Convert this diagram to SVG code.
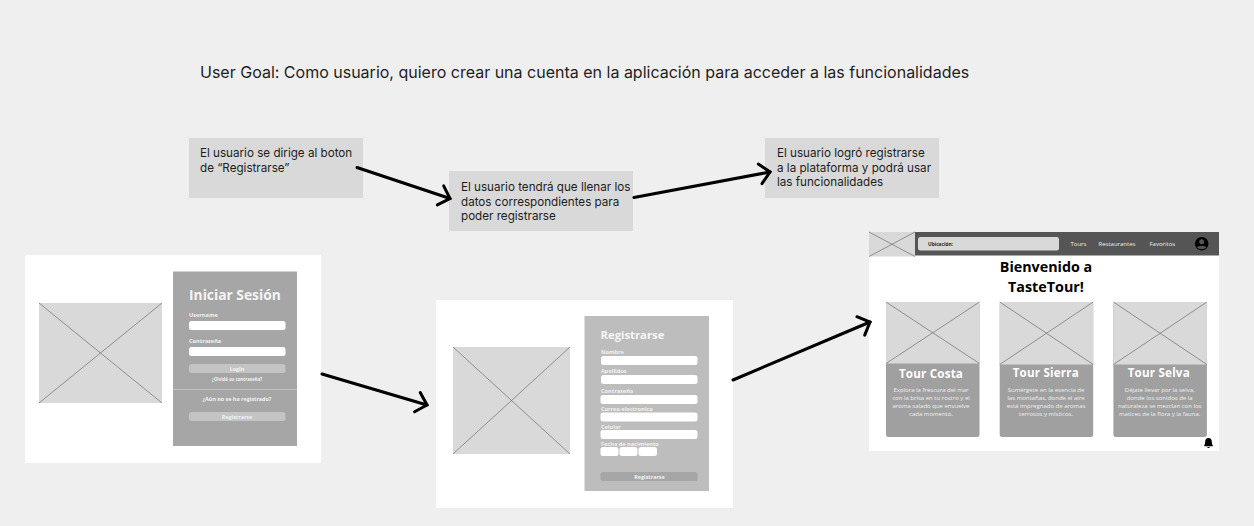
<svg xmlns="http://www.w3.org/2000/svg" width="1254" height="526" viewBox="0 0 1254 526">
<defs>
<style>
text{font-family:"Open Sans","Noto Sans",sans-serif}
.note{font-family:Inter,"Liberation Sans",sans-serif;font-size:11.65px;fill:#1e1e1e}
.noteBox{fill:#d9d9d9}
.panel{fill:#fff}
.ph{fill:#d9d9d9}
.x{stroke:#6f6f6f;stroke-width:.7;fill:none}
.in{fill:#fff}
.lab{font-size:5.6px;font-weight:700;fill:#f2f2f2}
.btnT{font-size:5.4px;font-weight:700;fill:#f2f2f2;text-anchor:middle}
.cardT{font-size:11.6px;font-weight:700;fill:#fff;text-anchor:middle;letter-spacing:.2px}
.cardB{font-size:6px;font-weight:500;fill:#f0f0f0;text-anchor:middle}
.nav{font-size:6px;font-weight:500;fill:#eee}
.arr{stroke:#000;stroke-width:3;fill:none;stroke-linecap:round}
</style>
<marker id="head" markerUnits="userSpaceOnUse" markerWidth="26" markerHeight="26" refX="13" refY="10" orient="auto" overflow="visible">
<path d="M3 0L13 10L3 20" fill="none" stroke="#000" stroke-width="3" stroke-linecap="round"/>
</marker>
</defs>
<rect width="1254" height="526" fill="#efefef"/>
<text id="goal" x="200" y="78" style="font-family:Inter,'Liberation Sans',sans-serif;font-size:16px;fill:#1e1e1e">User Goal: Como usuario, quiero crear una cuenta en la aplicación para acceder a las funcionalidades</text>

<g id="note1"><rect class="noteBox" x="189" y="138" width="174" height="60"/>
<text class="note" x="200" y="157">El usuario se dirige al boton</text><text class="note" x="200" y="172">de “Registrarse”</text></g>
<g id="note2"><rect class="noteBox" x="449" y="171" width="184" height="60"/>
<text class="note" x="461" y="191">El usuario tendrá que llenar los</text><text class="note" x="461" y="206">datos correspondientes para</text><text class="note" x="461" y="220">poder registrarse</text></g>
<g id="note3"><rect class="noteBox" x="765" y="138" width="174" height="60"/>
<text class="note" x="777" y="157">El usuario logró registrarse</text><text class="note" x="777" y="172">a la plataforma y podrá usar</text><text class="note" x="777" y="186">las funcionalidades</text></g>

<g id="login">
<rect class="panel" x="25" y="255" width="296" height="208"/>
<rect class="ph" x="39" y="303" width="123" height="100"/>
<path class="x" d="M39 303L162 403M162 303L39 403"/>
<rect x="173" y="271.500" width="124" height="174.500" fill="#a6a6a6"/>
<text x="189" y="300" style="font-size:13.800px;font-weight:700;fill:#f4f4f4">Iniciar Sesión</text>
<text class="lab" x="189" y="317">Username</text>
<rect class="in" x="189" y="321" width="96.500" height="9" rx="2.500"/>
<text class="lab" x="189" y="343">Contraseña</text>
<rect class="in" x="189" y="347" width="96.500" height="9" rx="2.500"/>
<rect x="189" y="364" width="96.500" height="9" rx="2.500" fill="#c4c4c4"/>
<text class="btnT" x="237" y="370.500">Login</text>
<text class="btnT" x="237" y="380.500" style="font-size:4.400px">¿Olvidó su contraseña?</text>
<rect x="173" y="389" width="124" height=".7" fill="#d0d0d0"/>
<text class="btnT" x="237" y="401">¿Aún no se ha registrado?</text>
<rect x="189" y="412" width="96.500" height="9" rx="2.500" fill="#c4c4c4"/>
<text class="btnT" x="237" y="418.500">Registrarse</text>
</g>

<g id="signup">
<rect class="panel" x="436" y="300" width="297" height="208"/>
<rect class="ph" x="453" y="347" width="117" height="107"/>
<path class="x" d="M453 347L570 454M570 347L453 454"/>
<rect x="584.500" y="316" width="124.500" height="175" fill="#bdbdbd"/>
<text x="600.500" y="338.500" style="font-size:11.300px;font-weight:700;fill:#f6f6f6">Registrarse</text>
<text class="lab" x="601" y="353.500">Nombre</text>
<rect class="in" x="601" y="356" width="96.500" height="9" rx="2.500"/>
<text class="lab" x="601" y="372.500">Apellidos</text>
<rect class="in" x="601" y="375" width="96.500" height="9" rx="2.500"/>
<text class="lab" x="601" y="392.500">Contraseña</text>
<rect class="in" x="600.500" y="395" width="97" height="9" rx="2.500"/>
<text class="lab" x="601" y="411">Correo electronico</text>
<rect class="in" x="600.500" y="412.500" width="97" height="9" rx="2.500"/>
<text class="lab" x="601" y="428.500">Celular</text>
<rect class="in" x="600.500" y="430" width="97" height="9" rx="2.500"/>
<text class="lab" x="601" y="446">Fecha de nacimiento</text>
<rect class="in" x="600.500" y="447" width="18" height="9" rx="2.500"/>
<rect class="in" x="619.500" y="447" width="18" height="9" rx="2.500"/>
<rect class="in" x="638.500" y="447" width="18.500" height="9" rx="2.500"/>
<rect x="600.500" y="472" width="97" height="9" rx="2.500" fill="#a6a6a6"/>
<text class="btnT" x="649.500" y="478.800">Registrarse</text>
</g>

<g id="home">
<rect class="panel" x="869" y="232" width="350" height="219"/>
<rect x="915" y="232" width="304" height="23.500" fill="#555"/>
<rect class="ph" x="869" y="232" width="46" height="24.500"/>
<path class="x" d="M869 232L915 256.500M915 232L869 256.500"/>
<rect x="918" y="237" width="141" height="13.500" rx="2.500" fill="#d9d9d9"/>
<text x="928" y="245.500" style="font-size:4.800px;font-weight:700;fill:#222">Ubicación:</text>
<text class="nav" x="1070.500" y="246">Tours</text>
<text class="nav" x="1098.500" y="246">Restaurantes</text>
<text class="nav" x="1149.500" y="246">Favoritos</text>
<circle cx="1201.700" cy="243.700" r="6.800" fill="#000"/>
<circle cx="1201.700" cy="241.700" r="2.500" fill="#555"/>
<path d="M1197 247.500c1-1.900 8.400-1.900 9.400 0c-2 2.200-7.400 2.200-9.400 0z" fill="#555"/>
<text x="1046" y="272" text-anchor="middle" style="font-size:14.300px;font-weight:700;fill:#000">Bienvenido a</text>
<text x="1046" y="292" text-anchor="middle" style="font-size:14.300px;font-weight:700;fill:#000">TasteTour!</text>
<path d="M1208.500 438c-2.300 0-3.300 1.700-3.300 3.700c0 2-.7 3-1.200 4.500h9c-.5-1.500-1.200-2.500-1.200-4.500c0-2-1-3.700-3.300-3.700zM1207 447a1.600 1.600 0 0 0 3 0z" fill="#000"/>
</g>

<g id="cardCosta">
<rect x="886" y="302" width="93.500" height="135" rx="2.500" fill="#a0a0a0"/>
<rect class="ph" x="886" y="302" width="93.500" height="61.500"/>
<path class="x" d="M886 302L979.500 363.500M979.500 302L886 363.500"/>
<text class="cardT" x="931" y="377.500">Tour Costa</text>
<text class="cardB" x="931" y="392">Explora la frescura del mar</text>
<text class="cardB" x="931" y="400">con la brisa en tu rostro y el</text>
<text class="cardB" x="931" y="408">aroma salado que envuelve</text>
<text class="cardB" x="931" y="416">cada momento.</text>
</g>
<g id="cardSierra">
<rect x="999.700" y="302" width="93.500" height="135" rx="2.500" fill="#a0a0a0"/>
<rect class="ph" x="999.700" y="302" width="93.500" height="62.500"/>
<path class="x" d="M999.700 302L1093.200 364.500M1093.200 302L999.700 364.500"/>
<text class="cardT" x="1045.800" y="376.800">Tour Sierra</text>
<text class="cardB" x="1046" y="392">Sumérgete en la esencia de</text>
<text class="cardB" x="1046" y="400">las montañas, donde el aire</text>
<text class="cardB" x="1046" y="408">está impregnado de aromas</text>
<text class="cardB" x="1046" y="416">terrosos y místicos.</text>
</g>
<g id="cardSelva">
<rect x="1113.400" y="302" width="93.500" height="135" rx="2.500" fill="#a0a0a0"/>
<rect class="ph" x="1113.400" y="302" width="93.500" height="62.500"/>
<path class="x" d="M1113.400 302L1206.900 364.500M1206.900 302L1113.400 364.500"/>
<text class="cardT" x="1158.800" y="377">Tour Selva</text>
<text class="cardB" x="1159.700" y="392">Déjate llevar por la selva,</text>
<text class="cardB" x="1159.700" y="400">donde los sonidos de la</text>
<text class="cardB" x="1159.700" y="408">naturaleza se mezclan con los</text>
<text class="cardB" x="1159.700" y="416">matices de la flora y la fauna.</text>
</g>

<g id="connectors">
<line class="arr" x1="357" y1="167.500" x2="450" y2="198.500" marker-end="url(#head)"/>
<line class="arr" x1="634" y1="197.500" x2="770" y2="172" marker-end="url(#head)"/>
<line class="arr" x1="322" y1="374" x2="427" y2="405" marker-end="url(#head)"/>
<line class="arr" x1="733" y1="380" x2="870" y2="322" marker-end="url(#head)"/>
</g>
</svg>
